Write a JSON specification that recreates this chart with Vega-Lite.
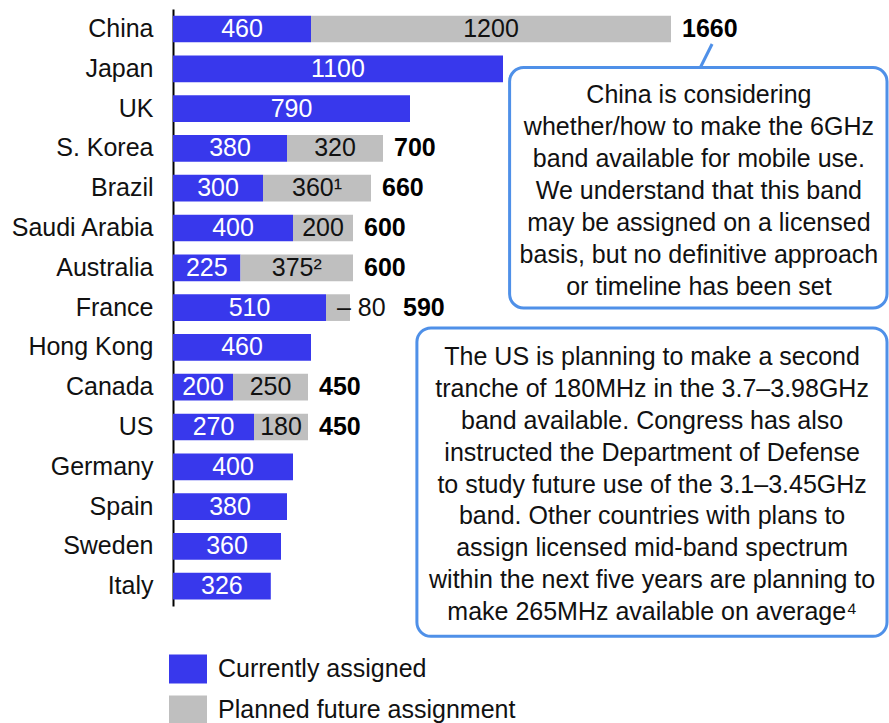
{
  "$schema": "https://vega.github.io/schema/vega-lite/v6.json",
  "width": 716,
  "height": 723,
  "autosize": {"type": "none"},
  "padding": {"left": 173, "top": 0, "right": 0, "bottom": 0},
  "background": "white",
  "config": {
    "view": {"stroke": null},
    "font": "Liberation Sans",
    "text": {"font": "Liberation Sans", "fontSize": 25},
    "legend": {
      "orient": "none",
      "legendX": -4,
      "legendY": 650,
      "title": null,
      "symbolType": "M-1,-0.763H1V0.763H-1Z",
      "symbolSize": 1444,
      "symbolStrokeWidth": 0,
      "symbolOpacity": 1,
      "labelFontSize": 25,
      "labelFont": "Liberation Sans",
      "labelColor": "#111111",
      "labelOffset": 11,
      "rowPadding": 7,
      "padding": 0,
      "labelLimit": 400
    }
  },
  "datasets": {
    "bars": [
      {"country": "China", "type": "Currently assigned", "value": 460, "label": "460"},
      {"country": "China", "type": "Planned future assignment", "value": 1200, "label": "1200"},
      {"country": "Japan", "type": "Currently assigned", "value": 1100, "label": "1100"},
      {"country": "UK", "type": "Currently assigned", "value": 790, "label": "790"},
      {"country": "S. Korea", "type": "Currently assigned", "value": 380, "label": "380"},
      {"country": "S. Korea", "type": "Planned future assignment", "value": 320, "label": "320"},
      {"country": "Brazil", "type": "Currently assigned", "value": 300, "label": "300"},
      {"country": "Brazil", "type": "Planned future assignment", "value": 360, "label": "360¹"},
      {"country": "Saudi Arabia", "type": "Currently assigned", "value": 400, "label": "400"},
      {"country": "Saudi Arabia", "type": "Planned future assignment", "value": 200, "label": "200"},
      {"country": "Australia", "type": "Currently assigned", "value": 225, "label": "225"},
      {"country": "Australia", "type": "Planned future assignment", "value": 375, "label": "375²"},
      {"country": "France", "type": "Currently assigned", "value": 510, "label": "510"},
      {"country": "France", "type": "Planned future assignment", "value": 80, "label": "80"},
      {"country": "Hong Kong", "type": "Currently assigned", "value": 460, "label": "460"},
      {"country": "Canada", "type": "Currently assigned", "value": 200, "label": "200"},
      {"country": "Canada", "type": "Planned future assignment", "value": 250, "label": "250"},
      {"country": "US", "type": "Currently assigned", "value": 270, "label": "270"},
      {"country": "US", "type": "Planned future assignment", "value": 180, "label": "180"},
      {"country": "Germany", "type": "Currently assigned", "value": 400, "label": "400"},
      {"country": "Spain", "type": "Currently assigned", "value": 380, "label": "380"},
      {"country": "Sweden", "type": "Currently assigned", "value": 360, "label": "360"},
      {"country": "Italy", "type": "Currently assigned", "value": 326, "label": "326"}
    ],
    "totals": [
      {"country": "China", "total": 1660},
      {"country": "S. Korea", "total": 700},
      {"country": "Brazil", "total": 660},
      {"country": "Saudi Arabia", "total": 600},
      {"country": "Australia", "total": 600},
      {"country": "France", "total": 590},
      {"country": "Canada", "total": 450},
      {"country": "US", "total": 450}
    ]
  },
  "layer": [
    {
      "data": {"name": "bars"},
      "transform": [
        {"stack": "value", "groupby": ["country"], "sort": [{"field": "type", "order": "ascending"}], "as": ["v0", "v1"]}
      ],
      "encoding": {
        "y": {
          "field": "country",
          "type": "nominal",
          "scale": {
            "domain": ["China", "Japan", "UK", "S. Korea", "Brazil", "Saudi Arabia", "Australia", "France", "Hong Kong", "Canada", "US", "Germany", "Spain", "Sweden", "Italy"],
            "range": [9.1, 606.1],
            "paddingInner": 0.33,
            "paddingOuter": 0.165
          },
          "axis": {
            "title": null,
            "ticks": false,
            "labelPadding": 20,
            "labelFontSize": 25,
            "labelFont": "Liberation Sans",
            "labelColor": "#111111",
            "domainColor": "#000000",
            "domainWidth": 2,
            "grid": false
          }
        }
      },
      "layer": [
        {
          "mark": {"type": "bar"},
          "encoding": {
            "x": {"field": "v0", "type": "quantitative", "scale": {"domain": [0, 2386.67], "nice": false, "zero": true}, "axis": null},
            "x2": {"field": "v1"},
            "color": {
              "field": "type",
              "type": "nominal",
              "scale": {"domain": ["Currently assigned", "Planned future assignment"], "range": ["#3838EC", "#BFBFBF"]}
            }
          }
        },
        {
          "transform": [
            {"filter": "datum.type === 'Currently assigned'"},
            {"fold": ["v0", "v1"], "as": ["edge", "pos"]},
            {"aggregate": [{"op": "mean", "field": "pos", "as": "mid"}], "groupby": ["country", "type", "label"]}
          ],
          "mark": {"type": "text", "color": "white", "baseline": "middle", "align": "center"},
          "encoding": {
            "x": {"field": "mid", "type": "quantitative"},
            "text": {"field": "label"}
          }
        },
        {
          "transform": [
            {"filter": "datum.type === 'Planned future assignment' && datum.country !== 'France'"},
            {"fold": ["v0", "v1"], "as": ["edge", "pos"]},
            {"aggregate": [{"op": "mean", "field": "pos", "as": "mid"}], "groupby": ["country", "type", "label"]}
          ],
          "mark": {"type": "text", "color": "#111111", "baseline": "middle", "align": "center"},
          "encoding": {
            "x": {"field": "mid", "type": "quantitative"},
            "text": {"field": "label"}
          }
        },
        {
          "transform": [{"filter": "datum.type === 'Planned future assignment' && datum.country === 'France'"}],
          "mark": {"type": "text", "color": "#111111", "baseline": "middle", "align": "left", "dx": -13},
          "encoding": {
            "x": {"field": "v1", "type": "quantitative"},
            "text": {"value": "– 80"}
          }
        },
        {
          "data": {"name": "totals"},
          "transform": [{"filter": "datum.country !== 'France'"}],
          "mark": {"type": "text", "color": "#000000", "fontWeight": "bold", "baseline": "middle", "align": "left", "dx": 11},
          "encoding": {
            "x": {"field": "total", "type": "quantitative"},
            "text": {"field": "total", "type": "quantitative", "format": "d"}
          }
        },
        {
          "data": {"name": "totals"},
          "transform": [{"filter": "datum.country === 'France'"}],
          "mark": {"type": "text", "color": "#000000", "fontWeight": "bold", "baseline": "middle", "align": "left", "dx": 53},
          "encoding": {
            "x": {"field": "total", "type": "quantitative"},
            "text": {"field": "total", "type": "quantitative", "format": "d"}
          }
        }
      ]
    },
    {
      "data": {"values": [{}]},
      "layer": [
        {
          "mark": {"type": "rule", "color": "#4F90E8", "strokeWidth": 3},
          "encoding": {
            "x": {"datum": 1757, "type": "quantitative"},
            "x2": {"datum": 1797},
            "y": {"datum": 0.98, "type": "quantitative", "scale": {"domain": [-0.5, 14.5], "range": [9.1, 606.1], "zero": false, "nice": false}, "axis": null},
            "y2": {"datum": 0.377}
          }
        },
        {
          "mark": {"type": "rect", "fill": "white", "stroke": "#4F90E8", "strokeWidth": 3, "cornerRadius": 14},
          "encoding": {
            "x": {"datum": 1122, "type": "quantitative"},
            "x2": {"datum": 2380},
            "y": {"datum": 0.967, "type": "quantitative", "scale": {"domain": [-0.5, 14.5], "range": [9.1, 606.1], "zero": false, "nice": false}, "axis": null},
            "y2": {"datum": 7.01}
          }
        },
        {
          "mark": {"type": "rect", "fill": "white", "stroke": "#4F90E8", "strokeWidth": 3, "cornerRadius": 14},
          "encoding": {
            "x": {"datum": 813, "type": "quantitative"},
            "x2": {"datum": 2380},
            "y": {"datum": 7.51, "type": "quantitative", "scale": {"domain": [-0.5, 14.5], "range": [9.1, 606.1], "zero": false, "nice": false}, "axis": null},
            "y2": {"datum": 15.26}
          }
        },
        {
          "mark": {"type": "text", "align": "center", "baseline": "middle", "lineBreak": "\n", "lineHeight": 32, "fontSize": 25, "color": "#111111"},
          "encoding": {
            "x": {"datum": 1753, "type": "quantitative"},
            "y": {"datum": 1.658, "type": "quantitative", "scale": {"domain": [-0.5, 14.5], "range": [9.1, 606.1], "zero": false, "nice": false}, "axis": null},
            "text": {"value": "China is considering\nwhether/how to make the 6GHz\nband available for mobile use.\nWe understand that this band\nmay be assigned on a licensed\nbasis, but no definitive approach\nor timeline has been set"}
          }
        },
        {
          "mark": {"type": "text", "align": "center", "baseline": "middle", "lineBreak": "\n", "lineHeight": 31.9, "fontSize": 25, "color": "#111111"},
          "encoding": {
            "x": {"datum": 1597, "type": "quantitative"},
            "y": {"datum": 8.241, "type": "quantitative", "scale": {"domain": [-0.5, 14.5], "range": [9.1, 606.1], "zero": false, "nice": false}, "axis": null},
            "text": {"value": "The US is planning to make a second\ntranche of 180MHz in the 3.7–3.98GHz\nband available. Congress has also\ninstructed the Department of Defense\nto study future use of the 3.1–3.45GHz\nband. Other countries with plans to\nassign licensed mid-band spectrum\nwithin the next five years are planning to\nmake 265MHz available on average⁴"}
          }
        }
      ]
    }
  ],
  "resolve": {"scale": {"y": "independent"}}
}
